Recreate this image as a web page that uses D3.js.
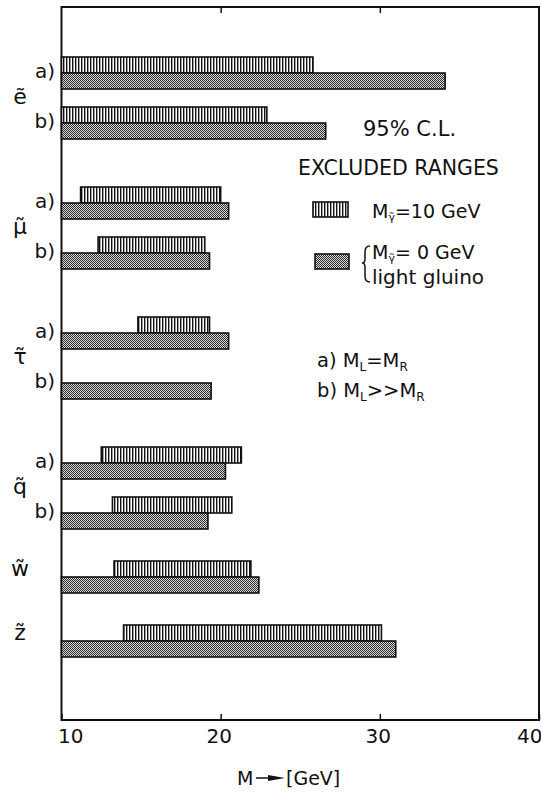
<!DOCTYPE html>
<html>
<head>
<meta charset="utf-8">
<script src="https://cdn.jsdelivr.net/npm/d3@7"></script>
<style>
  html, body { margin: 0; padding: 0; background: #fff; }
  svg { display: block; }
  text { font-family: "DejaVu Sans", sans-serif; fill: #111; }
</style>
</head>
<body>
<svg id="chart" width="541" height="796"></svg>
<script>
// Excluded sparticle mass ranges (GeV), 95% C.L.
const rowParticle = ["e\u0303", "e\u0303", "\u03bc\u0303", "\u03bc\u0303", "\u03c4\u0303", "\u03c4\u0303", "q\u0303", "q\u0303", "w\u0303", "z\u0303"];
const rowCase     = ["a)", "b)", "a)", "b)", "a)", "b)", "a)", "b)", "", ""];
// photino mass 10 GeV (vertical hatching)
const hatchLow    = [10.0, 10.0, 11.2, 12.3, 14.8, null, 12.5, 13.2, 13.3, 13.9];
const hatchHigh   = [25.8, 22.9, 20.0, 19.0, 19.3, null, 21.3, 20.7, 21.9, 30.1];
// photino mass 0 GeV / light gluino (stippled)
const dotLow      = [10.0, 10.0, 10.0, 10.0, 10.0, 10.0, 10.0, 10.0, 10.0, 10.0];
const dotHigh     = [34.1, 26.6, 20.5, 19.3, 20.5, 19.4, 20.3, 19.2, 22.4, 31.0];
const xTicks      = [10, 20, 30, 40];

const svg = d3.select("#chart");
const plotLeft = 61.5, plotRight = 539, plotTop = 7, plotBottom = 720;

const x = d3.scaleLinear().domain([10, 40]).range([plotLeft, plotRight]);

// vertical slot of each row: pairs a)/b) one unit apart, wider gaps between particles
const slots = [];
let s = 0;
rowParticle.forEach((p, i) => {
  if (i > 0) {
    if (p === rowParticle[i - 1]) s += 1;
    else {
      const nextHasPair = rowParticle.filter(q => q === p).length > 1;
      s += nextHasPair ? 1.6 : 1.28;
    }
  }
  slots.push(s);
});
const y = d3.scaleLinear().domain([0, 1]).range([73, 123]);
const barH = 16;

// fill patterns
const defs = svg.append("defs");
const hatch = defs.append("pattern").attr("id", "hatch")
  .attr("patternUnits", "userSpaceOnUse").attr("width", 3).attr("height", 4);
hatch.append("rect").attr("width", 3).attr("height", 4).attr("fill", "#fff");
hatch.append("rect").attr("x", 0).attr("width", 1.4).attr("height", 4).attr("fill", "#111");

const dots = defs.append("pattern").attr("id", "dots")
  .attr("patternUnits", "userSpaceOnUse").attr("width", 2).attr("height", 2);
dots.append("rect").attr("width", 2).attr("height", 2).attr("fill", "#dcdcdc");
dots.append("rect").attr("x", 0).attr("y", 0).attr("width", 1).attr("height", 1).attr("fill", "#2a2a2a");
dots.append("rect").attr("x", 1).attr("y", 1).attr("width", 1).attr("height", 1).attr("fill", "#2a2a2a");

// frame
svg.append("rect").attr("x", plotLeft).attr("y", plotTop)
  .attr("width", plotRight - plotLeft).attr("height", plotBottom - plotTop)
  .attr("fill", "none").attr("stroke", "#111").attr("stroke-width", 2);

// bottom axis: inward ticks plus labels
const xAxis = svg.append("g").attr("transform", `translate(0,${plotBottom})`)
  .call(d3.axisBottom(x).tickValues(xTicks).tickSize(-6).tickPadding(9).tickFormat(d3.format("d")));
xAxis.select(".domain").remove();
xAxis.selectAll("line").attr("stroke", "#111").attr("stroke-width", 1.5);
xAxis.selectAll("text").attr("font-size", 20).attr("fill", "#111")
  .style("font-family", "'DejaVu Sans', sans-serif")
  .attr("text-anchor", d => d === 10 ? "start" : d === 40 ? "end" : "middle")
  .attr("dx", d => d === 10 ? -4 : d === 40 ? 3 : -2);

// top axis: inward ticks only
const xTop = svg.append("g").attr("transform", `translate(0,${plotTop})`)
  .call(d3.axisTop(x).tickValues([20, 30]).tickSize(-6).tickFormat(""));
xTop.select(".domain").remove();
xTop.selectAll("line").attr("stroke", "#111").attr("stroke-width", 1.5);

// bars
const rows = rowParticle.map((p, i) => ({
  p, c: rowCase[i], slot: slots[i],
  hl: hatchLow[i], hh: hatchHigh[i], dl: dotLow[i], dh: dotHigh[i]
}));

svg.append("g").selectAll("rect").data(rows.filter(r => r.hl != null)).join("rect")
  .attr("x", r => x(r.hl)).attr("y", r => y(r.slot) - barH)
  .attr("width", r => x(r.hh) - x(r.hl)).attr("height", barH)
  .attr("fill", "url(#hatch)").attr("stroke", "#111").attr("stroke-width", 1.6);

svg.append("g").selectAll("rect").data(rows).join("rect")
  .attr("x", r => x(r.dl)).attr("y", r => y(r.slot))
  .attr("width", r => x(r.dh) - x(r.dl)).attr("height", barH)
  .attr("fill", "url(#dots)").attr("stroke", "#111").attr("stroke-width", 1.6);

// case labels a) / b)
svg.append("g").selectAll("text").data(rows.filter(r => r.c)).join("text")
  .attr("x", 55).attr("y", r => y(r.slot) - 2)
  .attr("dy", "0.35em").attr("text-anchor", "end").attr("font-size", 20)
  .text(r => r.c);

// particle labels
const groups = d3.groups(rows, r => r.p).map(([p, rs]) => {
  const mid = rs.length > 1 ? (y(rs[0].slot) + y(rs[1].slot)) / 2 - 2 : y(rs[0].slot) - 9;
  return { p, mid };
});
svg.append("g").selectAll("text").data(groups).join("text")
  .attr("x", 20).attr("y", g => g.mid).attr("dy", "0.35em")
  .attr("text-anchor", "middle").attr("font-size", 22)
  .text(g => g.p);

// legend
svg.append("text").attr("x", 363).attr("y", 136).attr("font-size", 21).text("95% C.L.");
svg.append("text").attr("x", 298).attr("y", 175).attr("font-size", 20.5).text("EXCLUDED RANGES");

svg.append("rect").attr("x", 313).attr("y", 202).attr("width", 35).attr("height", 15)
  .attr("fill", "url(#hatch)").attr("stroke", "#111").attr("stroke-width", 1.6);
svg.append("rect").attr("x", 315).attr("y", 254).attr("width", 34).attr("height", 15)
  .attr("fill", "url(#dots)").attr("stroke", "#111").attr("stroke-width", 1.6);

function massLabel(xp, yp, value) {
  const t = svg.append("text").attr("x", xp).attr("y", yp).attr("font-size", 19);
  t.append("tspan").text("M");
  t.append("tspan").attr("font-size", 11).attr("dy", 3).text("\u03b3\u0303");
  t.append("tspan").attr("dy", -3).text(value);
}
massLabel(372, 218, "=10 GeV");
massLabel(372, 259, "= 0 GeV");
svg.append("text").attr("x", 372).attr("y", 284).attr("font-size", 20).text("light gluino");
// brace
svg.append("path")
  .attr("d", "M370,246 Q365,246 365,252 L365,259 Q365,263 362,263 Q365,263 365,267 L365,276 Q365,282 370,282")
  .attr("fill", "none").attr("stroke", "#111").attr("stroke-width", 1.5);

function caseLabel(xp, yp, prefix, rel) {
  const t = svg.append("text").attr("x", xp).attr("y", yp).attr("font-size", 19.5);
  t.append("tspan").text(prefix + " M");
  t.append("tspan").attr("font-size", 12).attr("dy", 4).text("L");
  t.append("tspan").attr("dy", -4).text(rel + "M");
  t.append("tspan").attr("font-size", 12).attr("dy", 4).text("R");
}
caseLabel(317, 367, "a)", "=");
caseLabel(317, 397, "b)", ">>");

// axis title: M —► [GeV]
svg.append("text").attr("x", 237).attr("y", 785).attr("font-size", 19).text("M");
svg.append("line").attr("x1", 256).attr("x2", 272).attr("y1", 778).attr("y2", 778)
  .attr("stroke", "#111").attr("stroke-width", 1.5);
svg.append("path").attr("d", "M268,775 L285,778 L268,781 Z").attr("fill", "#111");
svg.append("text").attr("x", 286).attr("y", 785).attr("font-size", 19).text("[GeV]");
</script>
</body>
</html>
